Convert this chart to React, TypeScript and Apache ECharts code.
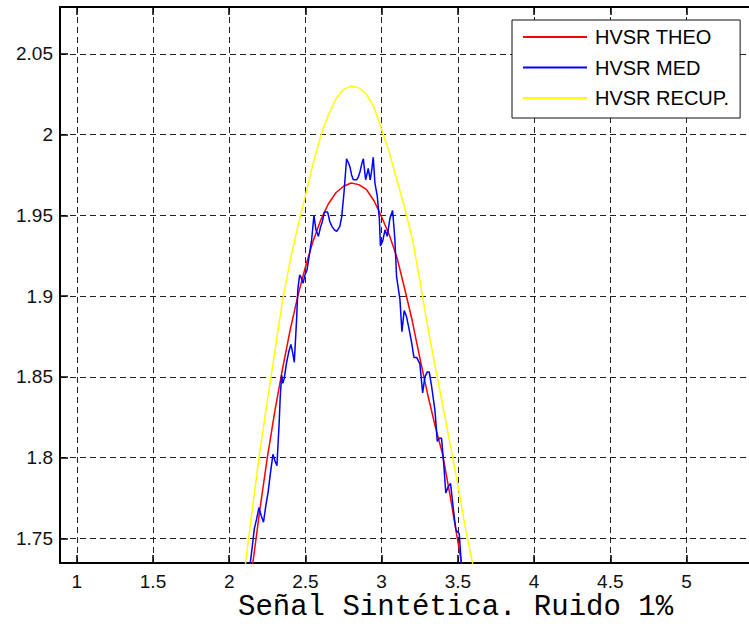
import React, { useEffect, useRef } from "react";
import * as echarts from "echarts";

// Axis ticks and texts
const xTicks = [1, 1.5, 2, 2.5, 3, 3.5, 4, 4.5, 5];
const yTicks = [1.75, 1.8, 1.85, 1.9, 1.95, 2, 2.05];
const seriesNames = ["HVSR THEO", "HVSR MED", "HVSR RECUP."];
const xLabel = "Señal Sintética. Ruido 1%";

// Theoretical HVSR curve
const theoX = [2.15, 2.2, 2.25, 2.3, 2.35, 2.4, 2.45, 2.5, 2.55, 2.6, 2.65, 2.7, 2.75, 2.8, 2.85, 2.9, 2.95, 3.0, 3.05, 3.1, 3.15, 3.2, 3.25, 3.3, 3.35, 3.4, 3.45, 3.5, 3.55];
const theoY = [1.731, 1.767, 1.8, 1.829, 1.855, 1.879, 1.9, 1.918, 1.934, 1.947, 1.957, 1.964, 1.968, 1.97, 1.969, 1.966, 1.959, 1.949, 1.938, 1.924, 1.905, 1.885, 1.862, 1.84, 1.82, 1.802, 1.776, 1.748, 1.72];

// Median HVSR (noisy signal)
const medX = [2.13, 2.165, 2.18, 2.195, 2.21, 2.225, 2.24, 2.256, 2.27, 2.287, 2.3, 2.313, 2.327, 2.335, 2.344, 2.352, 2.361, 2.375, 2.392, 2.405, 2.418, 2.427, 2.443, 2.45, 2.462, 2.47, 2.485, 2.497, 2.51, 2.525, 2.541, 2.556, 2.569, 2.585, 2.6, 2.611, 2.624, 2.646, 2.66, 2.675, 2.69, 2.705, 2.725, 2.738, 2.753, 2.77, 2.78, 2.792, 2.803, 2.814, 2.836, 2.848, 2.858, 2.87, 2.88, 2.888, 2.895, 2.905, 2.912, 2.925, 2.935, 2.945, 2.956, 2.971, 2.985, 2.992, 3.007, 3.022, 3.037, 3.054, 3.072, 3.087, 3.098, 3.12, 3.133, 3.148, 3.164, 3.181, 3.197, 3.212, 3.23, 3.251, 3.269, 3.284, 3.3, 3.312, 3.328, 3.35, 3.365, 3.38, 3.393, 3.409, 3.421, 3.437, 3.452, 3.466, 3.478, 3.488, 3.509, 3.517, 3.527];
const medY = [1.728, 1.756, 1.762, 1.769, 1.764, 1.76, 1.77, 1.779, 1.79, 1.802, 1.798, 1.795, 1.82, 1.838, 1.851, 1.846, 1.849, 1.858, 1.866, 1.87, 1.864, 1.859, 1.887, 1.904, 1.913, 1.912, 1.908, 1.913, 1.916, 1.925, 1.935, 1.95, 1.941, 1.937, 1.943, 1.946, 1.952, 1.952, 1.946, 1.943, 1.941, 1.94, 1.943, 1.949, 1.964, 1.985, 1.983, 1.98, 1.975, 1.972, 1.972, 1.974, 1.977, 1.982, 1.985, 1.978, 1.972, 1.976, 1.979, 1.972, 1.978, 1.986, 1.97, 1.962, 1.948, 1.931, 1.934, 1.941, 1.937, 1.948, 1.953, 1.935, 1.912, 1.898, 1.878, 1.891, 1.887, 1.879, 1.871, 1.862, 1.862, 1.858, 1.84, 1.85, 1.853, 1.853, 1.844, 1.829, 1.81, 1.812, 1.812, 1.794, 1.778, 1.782, 1.784, 1.772, 1.762, 1.755, 1.753, 1.742, 1.728];

// Recovered HVSR curve
const recupX = [2.1, 2.15, 2.2, 2.25, 2.3, 2.35, 2.4, 2.45, 2.5, 2.55, 2.6, 2.65, 2.7, 2.75, 2.8, 2.85, 2.9, 2.95, 3.0, 3.05, 3.1, 3.15, 3.2, 3.25, 3.3, 3.35, 3.4, 3.45, 3.5, 3.55, 3.6];
const recupY = [1.729, 1.767, 1.803, 1.835, 1.866, 1.897, 1.922, 1.943, 1.962, 1.982, 1.999, 2.012, 2.022, 2.028, 2.03, 2.029, 2.025, 2.017, 2.003, 1.989, 1.972, 1.955, 1.936, 1.91, 1.882, 1.857, 1.833, 1.808, 1.783, 1.756, 1.733];

const zip = (xs: number[], ys: number[]) => xs.map((x, i) => [x, ys[i]]);

const SANS = "'Liberation Sans', Arial, sans-serif";
const MONO = "'Liberation Mono', 'Courier New', monospace";

export default function App() {
  const ref = useRef<HTMLDivElement>(null);

  useEffect(() => {
    document.body.style.margin = "0";
    if (!ref.current) return;
    const chart = echarts.init(ref.current, undefined, { renderer: "svg" });

    const gridLine = { show: true, lineStyle: { color: "#222", width: 1, type: [6, 4] as number[] } };

    chart.setOption({
      animation: false,
      backgroundColor: "#fff",
      grid: { left: 60, right: 0, top: 7, bottom: 61, containLabel: false },
      legend: {
        orient: "vertical",
        left: 512,
        top: 20,
        padding: [7, 11, 10, 11],
        backgroundColor: "#fff",
        borderColor: "#111",
        borderWidth: 1,
        borderRadius: 0,
        icon: "rect",
        itemWidth: 64,
        itemHeight: 2,
        itemGap: 10.5,
        itemStyle: { borderWidth: 0 },
        selectedMode: false,
        textStyle: { fontFamily: SANS, fontSize: 20, color: "#000", lineHeight: 20, padding: [0, 0, 0, 3] },
        data: seriesNames,
      },
      xAxis: [
        {
          type: "value",
          position: "bottom",
          min: 0.89,
          max: 5.41,
          axisLine: { show: true, onZero: false, lineStyle: { color: "#000", width: 2 } },
          axisTick: { show: true, inside: true, length: 8, customValues: xTicks, lineStyle: { color: "#000", width: 1.5 } },
          axisLabel: { show: true, customValues: xTicks, margin: 10, lineHeight: 16, fontFamily: SANS, fontSize: 19, color: "#111" },
          splitLine: gridLine,
        },
        {
          type: "value",
          position: "top",
          min: 0.89,
          max: 5.41,
          axisLine: { show: true, onZero: false, lineStyle: { color: "#000", width: 2 } },
          axisTick: { show: true, inside: true, length: 8, customValues: xTicks, lineStyle: { color: "#000", width: 1.5 } },
          axisLabel: { show: false },
          splitLine: { show: false },
        },
      ],
      yAxis: {
        type: "value",
        min: 1.7347,
        max: 2.079,
        axisLine: { show: true, onZero: false, lineStyle: { color: "#000", width: 2 } },
        axisTick: { show: true, inside: true, length: 8, customValues: yTicks, lineStyle: { color: "#000", width: 1.5 } },
        axisLabel: { show: true, customValues: yTicks, margin: 7, fontFamily: SANS, fontSize: 19, color: "#111" },
        splitLine: gridLine,
      },
      series: [
        {
          name: seriesNames[0],
          type: "line",
          xAxisIndex: 0,
          data: zip(theoX, theoY),
          symbol: "none",
          color: "#ff0000",
          itemStyle: { color: "#ff0000" },
          lineStyle: { color: "#ff0000", width: 1.5 },
          z: 3,
        },
        {
          name: seriesNames[1],
          type: "line",
          xAxisIndex: 0,
          data: zip(medX, medY),
          symbol: "none",
          color: "#0000ff",
          itemStyle: { color: "#0000ff" },
          lineStyle: { color: "#0000ff", width: 1.5 },
          z: 3,
        },
        {
          name: seriesNames[2],
          type: "line",
          xAxisIndex: 0,
          data: zip(recupX, recupY),
          symbol: "none",
          color: "#ffff00",
          itemStyle: { color: "#ffff00" },
          lineStyle: { color: "#ffff00", width: 1.5 },
          z: 3,
        },
      ],
      graphic: [
        {
          type: "text",
          x: 238,
          y: 607,
          style: {
            text: xLabel,
            font: `29px ${MONO}`,
            lineHeight: 20,
            fill: "#000",
            textAlign: "left",
            textVerticalAlign: "middle",
          },
        },
      ],
    });

    return () => chart.dispose();
  }, []);

  return <div ref={ref} style={{ width: 749, height: 624 }} />;
}
